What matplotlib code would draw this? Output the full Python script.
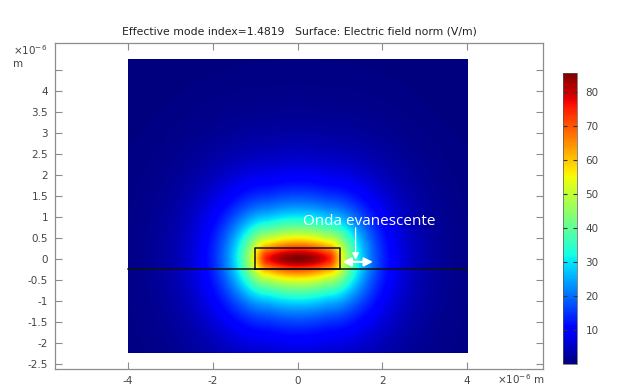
import numpy as np
import matplotlib
matplotlib.use("Agg")
import matplotlib.pyplot as plt

# --- values ---
title = "Effective mode index=1.4819   Surface: Electric field norm (V/m)"
x_ticks = [-4, -2, 0, 2, 4]
y_ticks = [-2.5, -2, -1.5, -1, -0.5, 0, 0.5, 1, 1.5, 2, 2.5, 3, 3.5, 4]
y_minor = [4.5]
cbar_ticks = [10, 20, 30, 40, 50, 60, 70, 80]

domain_x = (-4.0, 4.0)       # um
domain_y = (-2.25, 4.75)     # um
core_x = (-1.0, 1.0)
core_y = (-0.25, 0.25)
substrate_top = -0.25

e_max = 85.6                 # V/m, top of the colour range
flat_half = 0.7              # half width of the flat, cosine-shaped part (um)
k_core = 0.67                # lateral cosine (1/um)
decay = 1.2                  # evanescent decay (1/um)
x_stretch = 1.2              # faster lateral decay outside the flat part
round_off = 0.15             # smoothing of the peak (um)

annot_text = "Onda evanescente"
annot_xy = (0.12, 0.88)
pointer = ((1.37, 0.74), (1.37, -0.02))
span = ((1.06, -0.07), (1.78, -0.07))

# --- mode field: cosine across the core, exponential decay away from it ---
x = np.linspace(domain_x[0], domain_x[1], 500)
y = np.linspace(domain_y[0], domain_y[1], 440)
X, Y = np.meshgrid(x, y)
dx = x_stretch * np.clip(np.abs(X) - flat_half, 0, None)
d = np.sqrt(dx ** 2 + Y ** 2 + round_off ** 2) - round_off
E = e_max * np.cos(k_core * np.minimum(np.abs(X), flat_half)) * np.exp(-decay * d)

fig = plt.figure(figsize=(6.18, 3.88), dpi=100)
ax = fig.add_axes([0.089, 0.049, 0.7896, 0.840])
im = ax.imshow(E, extent=[x[0], x[-1], y[0], y[-1]], origin="lower",
               cmap="jet", vmin=0, vmax=e_max, interpolation="bilinear",
               aspect="auto")
ax.set_xlim(-5.72, 5.79)
ax.set_ylim(-2.62, 5.14)

# waveguide outline and substrate interface
ax.plot([core_x[0], core_x[1], core_x[1], core_x[0], core_x[0]],
        [core_y[0], core_y[0], core_y[1], core_y[1], core_y[0]],
        color="#111111", lw=1.1)
ax.plot(domain_x, [substrate_top, substrate_top], color="#111111", lw=1.1)

# annotation
ax.text(annot_xy[0], annot_xy[1], annot_text, color="white", fontsize=11,
        family="Open Sans", va="center", ha="left")
ax.annotate("", xy=pointer[1], xytext=pointer[0],
            arrowprops=dict(arrowstyle="-|>,head_width=0.2,head_length=0.4",
                            color="white", lw=0.9, shrinkA=0, shrinkB=0))
ax.annotate("", xy=span[1], xytext=span[0],
            arrowprops=dict(arrowstyle="<|-|>,head_width=0.25,head_length=0.5",
                            color="white", lw=1.6, shrinkA=0, shrinkB=0))

# axes styling
frame_col = "#8c8c8c"
label_col = "#444444"
for s in ax.spines.values():
    s.set_color(frame_col)
    s.set_linewidth(0.9)
ax.set_xticks(x_ticks)
ax.set_xticklabels([str(v) for v in x_ticks])
ax.set_yticks(y_ticks + y_minor)
ax.set_yticklabels([f"{v:g}" for v in y_ticks] + [""])
ax.tick_params(direction="in", length=5, width=0.8, color=frame_col,
               labelcolor=label_col, labelsize=7.5, top=True, right=True, pad=5)
ax.set_title(title, fontsize=7.8, color="#222222", pad=6)

fig.text(13 / 618, 1 - 50 / 388, r"$\times10^{-6}$", fontsize=7.5,
         color=label_col, va="center", ha="left")
fig.text(13 / 618, 1 - 64 / 388, "m", fontsize=7.5, color=label_col,
         va="center", ha="left")
fig.text(497 / 618, 1 - 379 / 388, r"$\times10^{-6}$ m", fontsize=7.5,
         color=label_col, va="center", ha="left")

# colour bar
cax = fig.add_axes([563 / 618, 24 / 388, 14 / 618, 291 / 388])
cb = fig.colorbar(im, cax=cax, ticks=cbar_ticks)
cb.outline.set_linewidth(0.5)
cb.outline.set_edgecolor("#555555")
cax.tick_params(direction="in", length=3, width=0.8, color="#333333",
                labelcolor=label_col, labelsize=7.5, left=True, right=True,
                pad=6)

fig.savefig("out.png", dpi=100)
